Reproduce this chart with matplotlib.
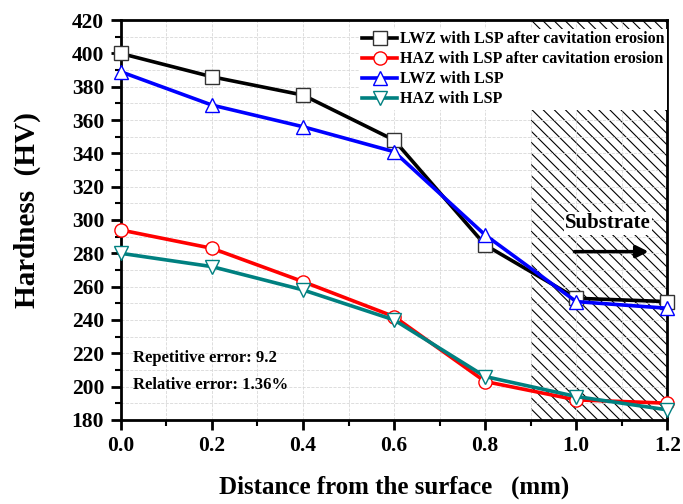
import matplotlib
matplotlib.use("Agg")
import matplotlib.pyplot as plt
from matplotlib.ticker import MultipleLocator, FormatStrFormatter

plt.rcParams["font.family"] = ["Liberation Serif", "DejaVu Serif"]
plt.rcParams["font.weight"] = "bold"
plt.rcParams["hatch.linewidth"] = 0.8

# distance from surface (mm)
distance = [0.0, 0.2, 0.4, 0.6, 0.8, 1.0, 1.2]

# hardness (HV)
lwz_after = [400, 386, 375, 348, 285, 253, 251]
haz_after = [294, 283, 263, 242, 203, 192, 190]
lwz_lsp = [389, 369, 356, 341, 291, 251, 247]
haz_lsp = [280, 272, 258, 240, 206, 194, 186]

series = [
    ("LWZ with LSP after cavitation erosion", lwz_after, "black", "#333333", "s"),
    ("HAZ with LSP after cavitation erosion", haz_after, "red", "red", "o"),
    ("LWZ with LSP", lwz_lsp, "blue", "blue", "^"),
    ("HAZ with LSP", haz_lsp, "#008080", "#008080", "v"),
]

substrate_start = 0.9

fig = plt.figure(figsize=(6.83, 5.04), dpi=100)
ax = fig.add_axes([0.177, 0.167, 0.800, 0.793])

ax.axvspan(substrate_start, 1.2, facecolor="none", edgecolor="black",
           hatch="\\\\\\", linewidth=0, zorder=1)

for label, ys, color, mec, mk in series:
    ax.plot(distance, ys, color=color, lw=2.6, marker=mk, ms=9.5, mfc="white",
            mec=mec, mew=1.0, label=label, zorder=3, clip_on=False)

ax.set_xlim(0, 1.2)
ax.set_ylim(180, 420)
ax.xaxis.set_major_locator(MultipleLocator(0.2))
ax.xaxis.set_minor_locator(MultipleLocator(0.1))
ax.yaxis.set_major_locator(MultipleLocator(20))
ax.yaxis.set_minor_locator(MultipleLocator(10))
ax.xaxis.set_major_formatter(FormatStrFormatter("%.1f"))

ax.grid(which="both", color="#d8d8d8", ls="--", lw=0.6, zorder=0)
ax.tick_params(which="major", direction="out", length=7, width=2, labelsize=15.5, pad=5)
ax.tick_params(which="minor", direction="out", length=4, width=1.5)
for sp in ax.spines.values():
    sp.set_linewidth(2)

ax.set_xlabel("Distance from the surface   (mm)", fontsize=18, fontweight="bold", labelpad=14)
ax.set_ylabel("Hardness  (HV)", fontsize=21, fontweight="bold")
ax.yaxis.set_label_coords(-0.147, 0.525)

leg = ax.legend(loc="upper right", bbox_to_anchor=(1.0, 0.978), fontsize=11.5,
                frameon=True, fancybox=False, edgecolor="none", framealpha=1,
                handlelength=2.2, handletextpad=0.2, labelspacing=0.25,
                borderpad=0.15, borderaxespad=0)
leg.set_zorder(5)

ax.text(1.07, 298, "Substrate", fontsize=15, fontweight="bold", ha="center", va="center",
        bbox=dict(facecolor="white", edgecolor="none", pad=1), zorder=4)
ax.annotate("", xy=(1.165, 281), xytext=(0.99, 281),
            arrowprops=dict(arrowstyle="-|>", color="black", lw=2.5, mutation_scale=18),
            zorder=4)

ax.text(0.027, 217, "Repetitive error: 9.2", fontsize=12, fontweight="bold", va="center")
ax.text(0.027, 201, "Relative error: 1.36%", fontsize=12, fontweight="bold", va="center")

fig.savefig("out.png", dpi=100)
